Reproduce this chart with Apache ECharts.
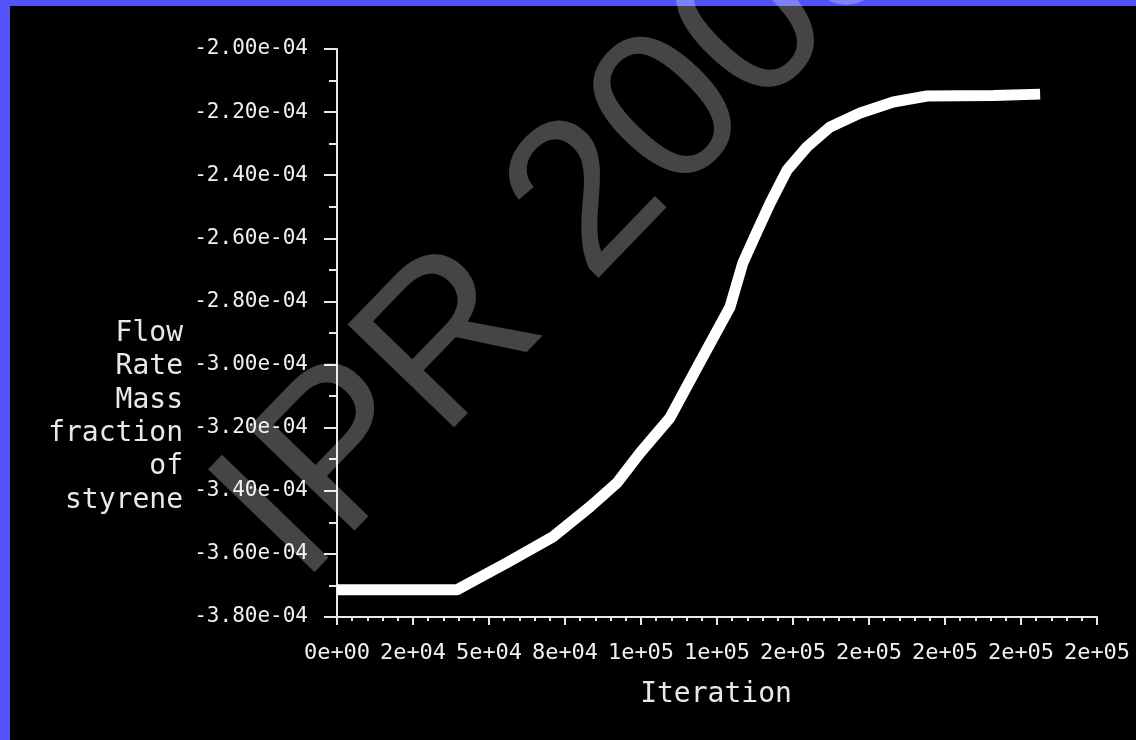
<!DOCTYPE html>
<html>
<head>
<meta charset="utf-8">
<script src="https://cdn.jsdelivr.net/npm/echarts@6/dist/echarts.min.js"></script>
<style>
  html, body { margin: 0; padding: 0; background: #5252fa; }
  #chart { width: 1136px; height: 740px; }
</style>
</head>
<body>
<div id="chart"></div>
<script>
// ---- data ----
const iterations = [0, 39400, 55900, 71000, 83200, 92100, 99700, 109500, 119400, 129300, 133500, 138100, 142500, 148100, 154600, 162200, 172100, 183000, 194100, 215900, 216500, 231300];
const flowRate = [-3.714e-4, -3.714e-4, -3.628e-4, -3.546e-4, -3.451e-4, -3.375e-4, -3.280e-4, -3.169e-4, -2.992e-4, -2.817e-4, -2.678e-4, -2.580e-4, -2.488e-4, -2.383e-4, -2.310e-4, -2.247e-4, -2.203e-4, -2.168e-4, -2.149e-4, -2.147e-4, -2.143e-4, -2.143e-4];
const xTickLabels = ['0e+00', '2e+04', '5e+04', '8e+04', '1e+05', '1e+05', '2e+05', '2e+05', '2e+05', '2e+05', '2e+05'];
const yTickLabels = ['-3.80e-04', '-3.60e-04', '-3.40e-04', '-3.20e-04', '-3.00e-04', '-2.80e-04', '-2.60e-04', '-2.40e-04', '-2.20e-04', '-2.00e-04'];
const xTitle = 'Iteration';
const yTitleLines = ['Flow', 'Rate', 'Mass', 'fraction', 'of', 'styrene'];
const watermark = 'IPR 2008';

const X_MIN = 0, X_MAX = 250000, X_INT = 25000;
const Y_INT = 2e-5, Y_MIN = -19 * Y_INT, Y_MAX = -10 * Y_INT;

const mono = '"DejaVu Sans Mono", monospace';
const chart = echarts.init(document.getElementById('chart'), null, { renderer: 'canvas' });

const points = iterations.map((x, i) => [x, flowRate[i]]);

chart.setOption({
  animation: false,
  backgroundColor: '#5252fa',
  grid: { left: 337, top: 49, width: 760, height: 568, containLabel: false },
  xAxis: {
    type: 'value', min: X_MIN, max: X_MAX, interval: X_INT,
    axisLine: { show: true, onZero: false, lineStyle: { color: '#e8e8e8', width: 2 } },
    axisTick: { show: true, inside: false, length: 8, lineStyle: { color: '#e8e8e8', width: 2 } },
    minorTick: { show: true, splitNumber: 5, length: 4, lineStyle: { color: '#e8e8e8', width: 2 } },
    splitLine: { show: false },
    axisLabel: {
      color: '#f0f0f0', fontFamily: mono, fontSize: 22, margin: 25,
      formatter: v => xTickLabels[Math.round((v - X_MIN) / X_INT)] ?? ''
    }
  },
  yAxis: {
    type: 'value', min: Y_MIN, max: Y_MAX, interval: Y_INT,
    axisLine: { show: true, onZero: false, lineStyle: { color: '#e8e8e8', width: 2 } },
    axisTick: { show: true, inside: false, length: 13, lineStyle: { color: '#e8e8e8', width: 2 } },
    minorTick: { show: true, splitNumber: 2, length: 8, lineStyle: { color: '#e8e8e8', width: 2 } },
    splitLine: { show: false },
    axisLabel: {
      color: '#f0f0f0', fontFamily: mono, fontSize: 21, margin: 29,
      formatter: v => yTickLabels[Math.round((v - Y_MIN) / Y_INT)] ?? ''
    }
  },
  series: [{
    type: 'line',
    data: points,
    showSymbol: false,
    smooth: false,
    lineStyle: { color: '#ffffff', width: 11, cap: 'butt', join: 'bevel' },
    z: 5
  }],
  graphic: [
    { type: 'rect', z: -10, shape: { x: 10, y: 6, width: 1126, height: 734 }, style: { fill: '#000000' } },
    { type: 'text', z: 10, x: 716, y: 695,
      style: { text: xTitle, fill: '#e8e8e8', fontFamily: mono, fontSize: 28, align: 'center', verticalAlign: 'middle' } },
    { type: 'text', z: 10, x: 183, y: 417,
      style: { text: yTitleLines.join('\n'), fill: '#e8e8e8', fontFamily: mono, fontSize: 28, lineHeight: 33.4, align: 'right', verticalAlign: 'middle' } },
    { type: 'text', z: 100, x: 258, y: 545, rotation: 46 * Math.PI / 180,
      style: { text: watermark, fill: 'rgba(255,255,255,0.27)', fontFamily: '"Liberation Sans", Arial, sans-serif', fontSize: 215, align: 'left', verticalAlign: 'middle' } }
  ]
});
</script>
</body>
</html>
